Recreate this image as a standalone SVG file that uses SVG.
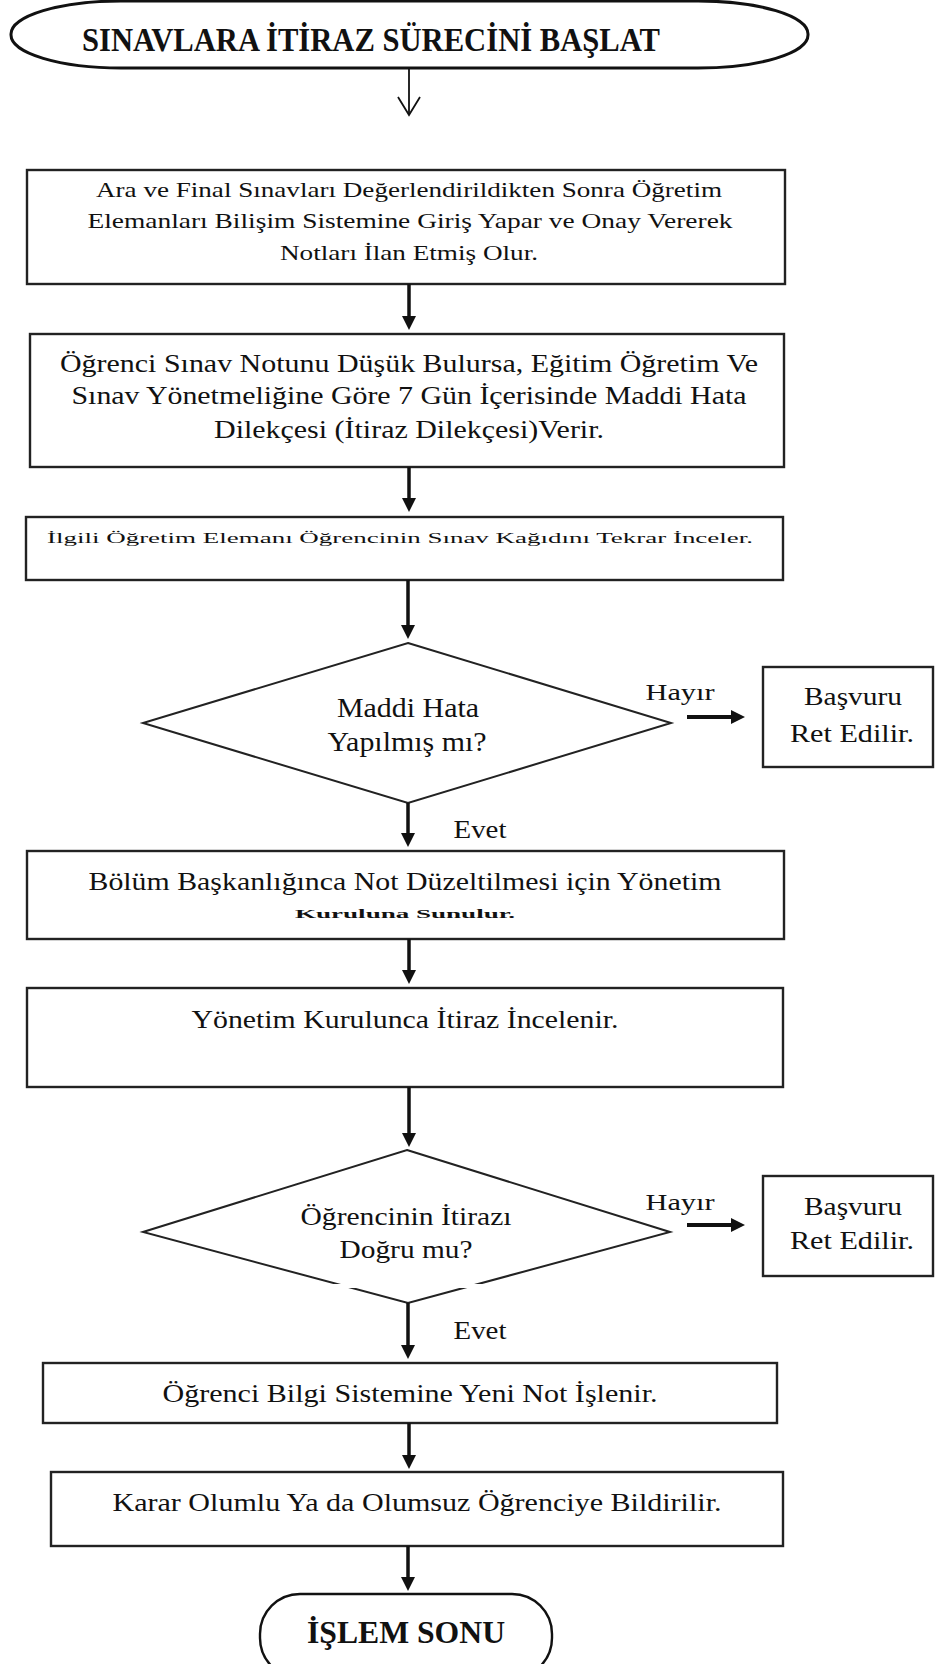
<svg xmlns="http://www.w3.org/2000/svg" width="939" height="1664" viewBox="0 0 939 1664">
<style>
.box{fill:#fff;stroke:#222;stroke-width:2.4}
.t{font-family:"Liberation Serif","Times New Roman",serif;fill:#111;text-anchor:middle}
.b{font-weight:bold}
.c line{stroke:#111;stroke-width:3.5}
</style>
<defs>
<marker id="ah" viewBox="0 0 10 10" refX="5" refY="5" markerWidth="18" markerHeight="14" markerUnits="userSpaceOnUse" orient="auto"><path d="M0,0 L10,5 L0,10 z" fill="#111"/></marker>
</defs>
<rect width="939" height="1664" fill="#fff"/>
<g id="start">
<rect x="11" y="1" width="797" height="67" rx="110" ry="33" fill="#fff" stroke="#111" stroke-width="3"/>
<text class="t b" x="371" y="51" font-size="33" textLength="578" lengthAdjust="spacingAndGlyphs">SINAVLARA İTİRAZ SÜRECİNİ BAŞLAT</text>
</g>
<g id="n1">
<rect class="box" x="27" y="170" width="758" height="114"/>
<text class="t" x="409" y="197" font-size="21" textLength="626" lengthAdjust="spacingAndGlyphs">Ara ve Final Sınavları Değerlendirildikten Sonra Öğretim</text>
<text class="t" x="410" y="228" font-size="21" textLength="645" lengthAdjust="spacingAndGlyphs">Elemanları Bilişim Sistemine Giriş Yapar ve Onay Vererek</text>
<text class="t" x="409" y="260" font-size="21" textLength="258" lengthAdjust="spacingAndGlyphs">Notları İlan Etmiş Olur.</text>
</g>
<g id="n2">
<rect class="box" x="30" y="334" width="754" height="133"/>
<text class="t" x="409" y="372" font-size="26" textLength="698" lengthAdjust="spacingAndGlyphs">Öğrenci Sınav Notunu Düşük Bulursa, Eğitim Öğretim Ve</text>
<text class="t" x="409" y="404" font-size="26" textLength="675" lengthAdjust="spacingAndGlyphs">Sınav Yönetmeliğine Göre 7 Gün İçerisinde Maddi Hata</text>
<text class="t" x="409" y="438" font-size="26" textLength="390" lengthAdjust="spacingAndGlyphs">Dilekçesi (İtiraz Dilekçesi)Verir.</text>
</g>
<g id="n3">
<rect class="box" x="26" y="517" width="757" height="63"/>
<text class="t" transform="translate(400,543) scale(1,0.65)" font-size="22" textLength="706" lengthAdjust="spacingAndGlyphs">İlgili Öğretim Elemanı Öğrencinin Sınav Kağıdını Tekrar İnceler.</text>
</g>
<g id="d1">
<polygon points="408,643 671,723 408,803 143,723" fill="#fff" stroke="#222" stroke-width="2"/>
<text class="t" x="408" y="717" font-size="27" textLength="142" lengthAdjust="spacingAndGlyphs">Maddi Hata</text>
<text class="t" x="407" y="751" font-size="27" textLength="159" lengthAdjust="spacingAndGlyphs">Yapılmış mı?</text>
</g>
<g id="r1">
<rect class="box" x="763" y="667" width="170" height="100"/>
<text class="t" x="853" y="705" font-size="26" textLength="98" lengthAdjust="spacingAndGlyphs">Başvuru</text>
<text class="t" x="852" y="742" font-size="26" textLength="124" lengthAdjust="spacingAndGlyphs">Ret Edilir.</text>
</g>
<g id="n5">
<rect class="box" x="27" y="851" width="757" height="88"/>
<text class="t" x="405" y="890" font-size="26" textLength="633" lengthAdjust="spacingAndGlyphs">Bölüm Başkanlığınca Not Düzeltilmesi için Yönetim</text>
<text class="t b" transform="translate(405,918) scale(1,0.6)" font-size="22" textLength="220" lengthAdjust="spacingAndGlyphs">Kuruluna Sunulur.</text>
</g>
<g id="n6">
<rect class="box" x="27" y="988" width="756" height="99"/>
<text class="t" x="405" y="1028" font-size="26" textLength="427" lengthAdjust="spacingAndGlyphs">Yönetim Kurulunca İtiraz İncelenir.</text>
</g>
<g id="d2">
<polygon points="407,1150 670,1232 408,1303 143,1232" fill="#fff" stroke="#222" stroke-width="2"/>
<rect x="200" y="1284" width="282" height="4" fill="#fff"/>
<text class="t" x="406" y="1225" font-size="26" textLength="211" lengthAdjust="spacingAndGlyphs">Öğrencinin İtirazı</text>
<text class="t" x="406" y="1258" font-size="26" textLength="133" lengthAdjust="spacingAndGlyphs">Doğru mu?</text>
</g>
<g id="r2">
<rect class="box" x="763" y="1176" width="170" height="100"/>
<text class="t" x="853" y="1215" font-size="26" textLength="98" lengthAdjust="spacingAndGlyphs">Başvuru</text>
<text class="t" x="852" y="1249" font-size="26" textLength="124" lengthAdjust="spacingAndGlyphs">Ret Edilir.</text>
</g>
<g id="n8">
<rect class="box" x="43" y="1363" width="734" height="60"/>
<text class="t" x="410" y="1402" font-size="26" textLength="495" lengthAdjust="spacingAndGlyphs">Öğrenci Bilgi Sistemine Yeni Not İşlenir.</text>
</g>
<g id="n9">
<rect class="box" x="51" y="1472" width="732" height="74"/>
<text class="t" x="417" y="1511" font-size="26" textLength="609" lengthAdjust="spacingAndGlyphs">Karar Olumlu Ya da Olumsuz Öğrenciye Bildirilir.</text>
</g>
<g id="end">
<rect x="260" y="1594" width="292" height="84" rx="40" fill="#fff" stroke="#111" stroke-width="2.4"/>
<text class="t b" x="406" y="1643" font-size="32" textLength="198" lengthAdjust="spacingAndGlyphs">İŞLEM SONU</text>
</g>
<g id="connectors" class="c">
<line x1="409" y1="68" x2="409" y2="114" style="stroke-width:1.8"/>
<polyline points="398,97 409,115 420,97" fill="none" stroke="#111" stroke-width="1.8"/>
<line x1="409" y1="284" x2="409" y2="323" marker-end="url(#ah)"/>
<line x1="409" y1="467" x2="409" y2="505" marker-end="url(#ah)"/>
<line x1="408" y1="580" x2="408" y2="632" marker-end="url(#ah)"/>
<line x1="687" y1="717" x2="738" y2="717" marker-end="url(#ah)" style="stroke-width:4"/>
<line x1="408" y1="803" x2="408" y2="840" marker-end="url(#ah)"/>
<line x1="409" y1="939" x2="409" y2="977" marker-end="url(#ah)"/>
<line x1="409" y1="1087" x2="409" y2="1140" marker-end="url(#ah)"/>
<line x1="687" y1="1225" x2="738" y2="1225" marker-end="url(#ah)" style="stroke-width:4"/>
<line x1="408" y1="1303" x2="408" y2="1352" marker-end="url(#ah)"/>
<line x1="409" y1="1423" x2="409" y2="1462" marker-end="url(#ah)"/>
<line x1="408" y1="1546" x2="408" y2="1584" marker-end="url(#ah)"/>
</g>
<g id="labels">
<text class="t" x="680" y="700" font-size="24" textLength="69" lengthAdjust="spacingAndGlyphs">Hayır</text>
<text class="t" x="480" y="838" font-size="25" textLength="53" lengthAdjust="spacingAndGlyphs">Evet</text>
<text class="t" x="680" y="1210" font-size="24" textLength="69" lengthAdjust="spacingAndGlyphs">Hayır</text>
<text class="t" x="480" y="1339" font-size="25" textLength="53" lengthAdjust="spacingAndGlyphs">Evet</text>
</g>
</svg>
